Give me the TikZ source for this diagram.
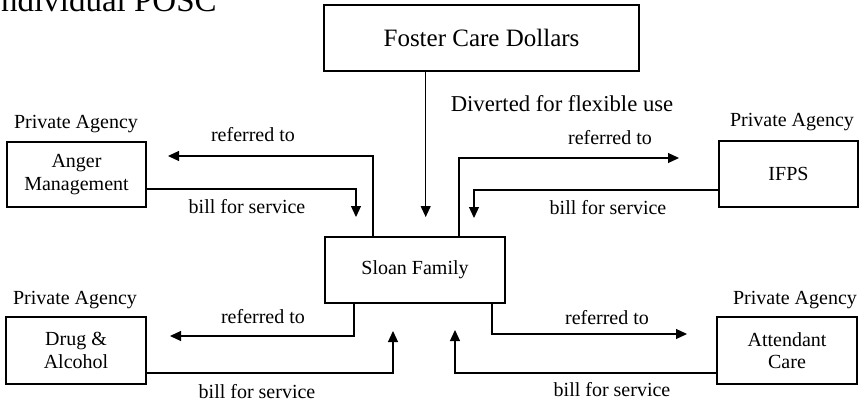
\documentclass[tikz,border=0pt]{standalone}
\usepackage{fontspec}
\setmainfont{Liberation Serif}
\usetikzlibrary{arrows.meta}
\tikzset{bx/.append style={draw, line width=1.1pt, inner sep=0pt, align=center, font=\fontsize{20}{22.5}\selectfont}}
\tikzset{tx/.append style={inner sep=0pt, font=\fontsize{20}{24}\selectfont}}
\tikzset{ar/.append style={line width=1.1pt, -{Triangle[length=11pt,width=10pt]}}}

\begin{document}
\begin{tikzpicture}[x=1pt,y=-1pt]
                \useasboundingbox (0,0) rectangle (863,404);
                % \SetUpBoxes
                \node[anchor=base west, inner sep=0pt, font=\fontsize{33}{36}\selectfont] (title) at (-10,12) {Individual POSC};
                \node[bx, minimum width=315pt, minimum height=66pt, font=\fontsize{25}{28}\selectfont] (foster) at (481.5,38) {Foster Care Dollars};
                \node[bx, minimum width=180pt, minimum height=66pt] (sloan) at (415,270) {Sloan Family};
                \node[bx, minimum width=139pt, minimum height=65pt] (anger) at (76.5,174.5) {Anger\\Management};
                \node[bx, minimum width=139pt, minimum height=66pt] (ifps) at (788.5,174) {IFPS};
                \node[bx, minimum width=140pt, minimum height=67pt] (drug) at (76,350.5) {Drug \&\\Alcohol};
                \node[bx, minimum width=140pt, minimum height=67pt] (attendant) at (787,350.5) {Attendant\\Care};
                \node[tx] (angerag) at (76,124) {Private Agency};
                \node[tx] (ifpsag) at (792,122) {Private Agency};
                \node[tx] (drugag) at (75,300) {Private Agency};
                \node[tx] (attag) at (795,300) {Private Agency};
                % arrow ends
                \coordinate (fosterout) at (425.7,217);
                \coordinate (angerin) at (168,156);
                \coordinate (angerout) at (356,217);
                \coordinate (ifpsin) at (679,158);
                \coordinate (ifpsout) at (474,218);
                \coordinate (drugin) at (170,336);
                \coordinate (drugout) at (393,331);
                \coordinate (attin) at (687,334);
                \coordinate (attout) at (455,330);
                \draw[ar] ([xshift=-55.8pt]foster.south) -- (fosterout);
                \draw[ar] ([xshift=-42pt]sloan.north) |- (angerin);
                \draw[ar] ([yshift=-14.5pt]anger.east) -| (angerout);
                \draw[ar] ([xshift=44pt]sloan.north) |- (ifpsin);
                \draw[ar] ([yshift=-16pt]ifps.west) -| (ifpsout);
                \draw[ar] ([xshift=-61pt]sloan.south) |- (drugin);
                \draw[ar] ([yshift=-22.5pt]drug.east) -| (drugout);
                \draw[ar] ([xshift=77pt]sloan.south) |- (attin);
                \draw[ar] ([yshift=-22.5pt]attendant.west) -| (attout);
                % labels
                \node[tx, font=\fontsize{22.7}{26}\selectfont] (divert) at (562,104) {Diverted for flexible use};
                \node[tx] (angerref) at (253,135) {referred to};
                \node[tx] (angerbill) at (247,207) {bill for service};
                \node[tx] (ifpsref) at (610,138) {referred to};
                \node[tx] (ifpsbill) at (608,208) {bill for service};
                \node[tx] (drugref) at (263,317) {referred to};
                \node[tx] (drugbill) at (257,392) {bill for service};
                \node[tx] (attref) at (607,318) {referred to};
                \node[tx] (attbill) at (612,390) {bill for service};
            \end{tikzpicture}
\end{document}
